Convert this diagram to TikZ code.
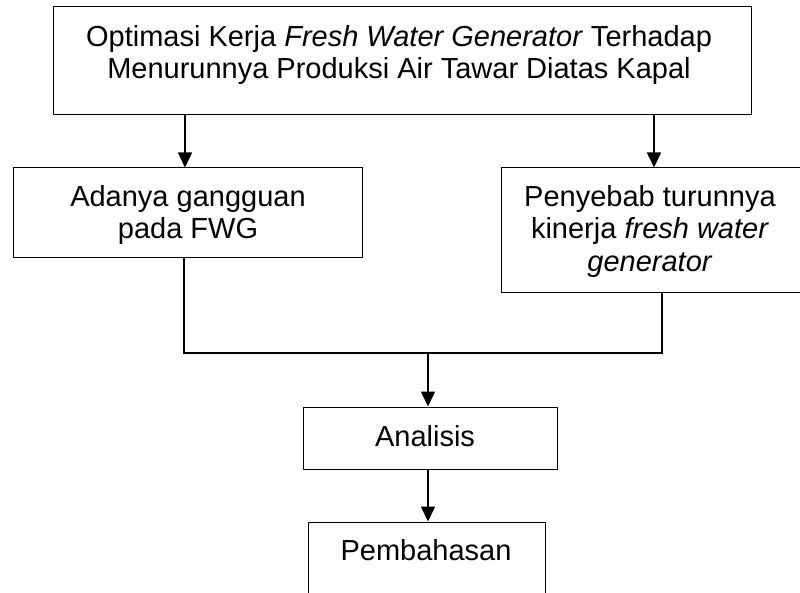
\documentclass[tikz,border=0pt]{standalone}
\usepackage{fontspec}
\setmainfont{Liberation Sans}
\usetikzlibrary{arrows.meta}
\begin{document}
\begin{tikzpicture}[x=1pt,y=-1pt,
  box/.style={draw, line width=1pt, inner sep=0pt, rectangle},
  lbl/.style={align=center, font=\fontsize{29}{32.5}\selectfont, inner sep=0pt, anchor=north},
  conn/.style={line width=1.6pt},
  arr/.style={conn, -{Triangle[length=15pt,width=14pt]}}]
\useasboundingbox (0,0) rectangle (800,593);
% boxes
\node[box, minimum width=698pt, minimum height=108pt] (top) at (402,61) {};
\node[box, minimum width=349pt, minimum height=90pt] (left) at (187.5,213) {};
\node[box, minimum width=300pt, minimum height=125pt] (right) at (651,230.5) {};
\node[box, minimum width=254pt, minimum height=62pt] (ana) at (430,438) {};
\node[box, minimum width=237pt, minimum height=98pt] (pem) at (426.5,571) {};
% texts
\node[lbl] (toptext) at (399,25) {Optimasi Kerja \textit{Fresh Water Generator} Terhadap\\Menurunnya Produksi Air Tawar Diatas Kapal};
\node[lbl] (lefttext) at (188,185) {Adanya gangguan\\pada FWG};
\node[lbl] (righttext) at (650,185) {Penyebab turunnya\\kinerja \textit{fresh water}\\\textit{generator}};
\node[lbl] (anatext) at (425,425) {Analisis};
\node[lbl] (pemtext) at (426,539) {Pembahasan};
% connectors
\coordinate (jl) at (184,353);
\coordinate (jr) at (662,353);
\coordinate (jm) at (428,353);
\draw[arr] (top.south -| 185,0) -- (left.north -| 185,0);
\draw[arr] (top.south -| 654,0) -- (right.north -| 654,0);
\draw[conn] (left.south -| jl) -- (jl) -- (jr) -- (right.south -| jr);
\draw[arr] (jm) -- (ana.north -| jm);
\draw[arr] (ana.south -| jm) -- (pem.north -| jm);
\end{tikzpicture}
\end{document}
